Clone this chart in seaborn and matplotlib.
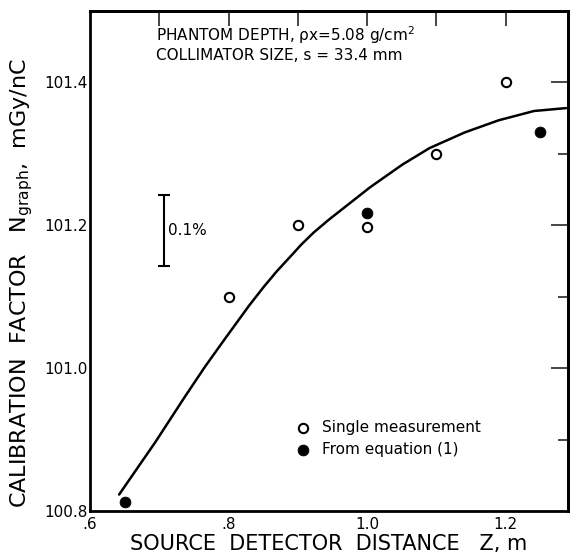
import matplotlib
matplotlib.use("Agg")
import matplotlib.pyplot as plt
import seaborn as sns
import pandas as pd

single_z = [0.8, 0.9, 1.0, 1.1, 1.2]
single_n = [101.10, 101.20, 101.197, 101.30, 101.40]
eq_z = [0.65, 1.0, 1.25]
eq_n = [100.812, 101.217, 101.331]

# fitted curve, sampled by eye from the figure
curve_z = [0.642, 0.694, 0.737, 0.766, 0.794, 0.83, 0.851, 0.87, 0.89, 0.905, 0.923, 0.945, 0.966,
           1.004, 1.051, 1.09, 1.141, 1.19, 1.241, 1.287]
curve_n = [100.823, 100.896, 100.960, 101.002, 101.040, 101.088, 101.114, 101.136, 101.157, 101.173,
           101.190, 101.208, 101.224, 101.253, 101.285, 101.308, 101.330, 101.347, 101.360, 101.364]

x_ticks = [0.6, 0.8, 1.0, 1.2]
x_ticklabels = [".6", ".8", "1.0", "1.2"]
x_minor = [0.7, 0.9, 1.1]
y_ticks = [100.8, 101.0, 101.2, 101.4]
y_ticklabels = ["100.8", "101.0", "101.2", "101.4"]
y_minor = [100.9, 101.1, 101.3]

sns.set_style("white")
plt.rcParams['font.family'] = ['DejaVu Sans']
plt.rcParams['text.color'] = 'black'
plt.rcParams['axes.labelcolor'] = 'black'

fig = plt.figure(figsize=(5.76, 5.6), dpi=100)
ax = fig.add_axes([0.15625, 0.0875, 0.8299, 0.8929])

curve = pd.DataFrame({"z": curve_z, "n": curve_n})
sns.lineplot(data=curve, x="z", y="n", color="black", linewidth=1.8, ax=ax, legend=False)

sns.scatterplot(x=single_z, y=single_n, marker="o", s=45, facecolor="white",
                edgecolor="black", linewidth=1.5, ax=ax, label="Single measurement", zorder=3)
sns.scatterplot(x=eq_z, y=eq_n, marker="o", s=60, color="black",
                edgecolor="black", ax=ax, label="From equation (1)", zorder=3)

# 0.1 % scale bar
ax.errorbar([0.707], [101.193], yerr=[0.05], color="black", capsize=4,
            elinewidth=1.5, capthick=1.5, fmt="none")
ax.text(0.713, 101.193, "0.1%", fontsize=11, va="center", ha="left")

ax.text(0.138, 0.935, "PHANTOM DEPTH, \u03c1x=5.08 g/cm$^2$\nCOLLIMATOR SIZE, s = 33.4 mm",
        transform=ax.transAxes, fontsize=11, va="center", ha="left", linespacing=1.15)

ax.set_xlim(0.6, 1.29)
ax.set_ylim(100.8, 101.5)
ax.set_xticks(x_ticks)
ax.set_xticklabels(x_ticklabels)
ax.set_xticks(x_minor, minor=True)
ax.set_yticks(y_ticks)
ax.set_yticklabels(y_ticklabels)
ax.set_yticks(y_minor, minor=True)

ax.tick_params(axis="x", which="major", direction="in", length=17, width=1.2,
               labelsize=11, pad=4, colors="black")
ax.tick_params(axis="x", which="minor", direction="in", length=10, width=1.2)
ax.tick_params(axis="y", which="major", direction="in", length=16, width=1.2,
               labelsize=11, pad=2, colors="black")
ax.tick_params(axis="y", which="minor", direction="in", length=9, width=1.2)

top = ax.secondary_xaxis("top")
top.set_xticks(x_minor + x_ticks[1:])
top.tick_params(direction="in", length=11, width=1.2, labeltop=False)
right = ax.secondary_yaxis("right")
right.set_yticks(y_ticks[1:])
right.set_yticks(y_minor, minor=True)
right.tick_params(which="major", direction="in", length=12, width=1.2, labelright=False)
right.tick_params(which="minor", direction="in", length=7, width=1.2)

for sp in list(ax.spines.values()) + [top.spines["top"], right.spines["right"]]:
    sp.set_color("black")
    sp.set_linewidth(2)

ax.set_xlabel("SOURCE  DETECTOR  DISTANCE   Z, m", fontsize=15, labelpad=2)
ax.set_ylabel("CALIBRATION  FACTOR   N$_{\\mathregular{graph}}$,  mGy/nC", fontsize=16)
ax.yaxis.set_label_coords(-0.115, 0.456)

ax.legend(loc="upper left", bbox_to_anchor=(0.40, 0.195), frameon=False, fontsize=11,
          handletextpad=0.3, labelspacing=0.5, borderaxespad=0)

fig.savefig("out.png", dpi=100)
